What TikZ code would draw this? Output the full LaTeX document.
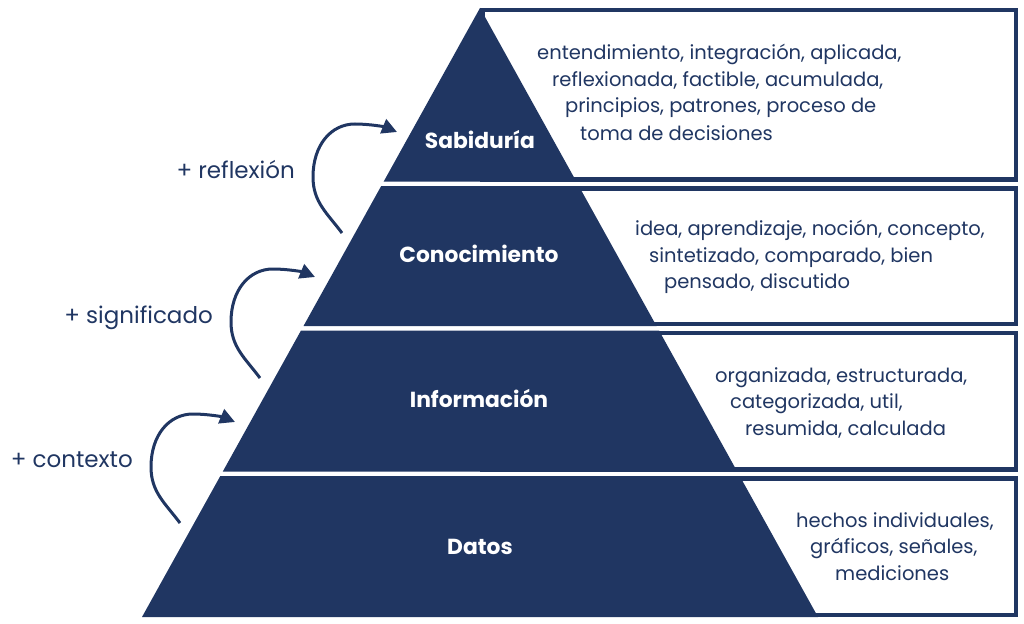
\documentclass[tikz,border=0pt]{standalone}
\usepackage{fontspec}
\setmainfont{Poppins}
\usetikzlibrary{arrows.meta}
\definecolor{navy}{RGB}{32,54,98}
\begin{document}
\begin{tikzpicture}[x=1pt,y=-1pt,
  layer/.style={fill=navy,draw=none},
  infobox/.style={draw=navy,line width=4.5pt,fill=white},
  lvl/.style={text=white,font=\bfseries\fontsize{21.8}{24}\selectfont,inner sep=0pt,anchor=base},
  desc/.style={text=navy,font=\fontsize{19.5}{22}\selectfont,inner sep=0pt,anchor=base west},
  plus/.style={text=navy,font=\fontsize{23}{26}\selectfont,inner sep=0pt,anchor=base east},
  arr/.style={draw=navy,line width=3pt,-{Triangle[length=15pt,width=15pt]}},
  loop arrow/.pic={\draw[arr] (0,0) .. controls (-15,-20) and (-29,-31) .. (-29,-56)
     .. controls (-29,-88) and (-11,-109) .. (13,-109)
     .. controls (28,-109) and (43,-106) .. (55,-101);}]
\useasboundingbox (0,0) rectangle (1024,623);
% boxes
\draw[infobox] (482.25,10.25) rectangle (1015.75,179.25);
\draw[infobox] (482.25,188.25) rectangle (1015.75,323.75);
\draw[infobox] (482.25,332.75) rectangle (1015.75,469.25);
\draw[infobox] (482.25,478.25) rectangle (1015.75,614.75);
% pyramid layers
\fill[layer] (480,8) -- (576.3,181.5) -- (383.7,181.5) -- cycle;
\fill[layer] (381.2,186) -- (578.8,186) -- (656.5,326) -- (303.5,326) -- cycle;
\fill[layer] (301.0,330.5) -- (659.0,330.5) -- (737.2,471.5) -- (222.8,471.5) -- cycle;
\fill[layer] (220.3,476) -- (739.7,476) -- (818,617) -- (142,617) -- cycle;
% layer labels
\node[lvl] (sab) at (480,148) {Sabiduría};
\node[lvl] (con) at (479,262) {Conocimiento};
\node[lvl] (inf) at (479,407) {Información};
\node[lvl] (dat) at (480,554) {Datos};
% descriptions
\node[desc] (s1) at (537,60) {entendimiento, integración, aplicada,};
\node[desc] (s2) at (552,86.7) {reflexionada, factible, acumulada,};
\node[desc] (s3) at (565,113) {principios, patrones, proceso de};
\node[desc] (s4) at (580,140) {toma de decisiones};
\node[desc] (c1) at (635,235) {idea, aprendizaje, noción, concepto,};
\node[desc] (c2) at (649,262) {sintetizado, comparado, bien};
\node[desc] (c3) at (664,288) {pensado, discutido};
\node[desc] (i1) at (715,382) {organizada, estructurada,};
\node[desc] (i2) at (730,408) {categorizada, util,};
\node[desc] (i3) at (745,435) {resumida, calculada};
\node[desc] (d1) at (796,527) {hechos individuales,};
\node[desc] (d2) at (810,553) {gráficos, señales,};
\node[desc] (d3) at (835,580) {mediciones};
% left labels and arrows
\node[plus] (pr) at (295,178) {+ reflexión};
\node[plus] (ps) at (213,323) {+ significado};
\node[plus] (pc) at (133,467) {+ contexto};
\pic (a1) at (342,233) {loop arrow};
\pic (a2) at (260,378) {loop arrow};
\pic (a3) at (180,523) {loop arrow};
\end{tikzpicture}
\end{document}
